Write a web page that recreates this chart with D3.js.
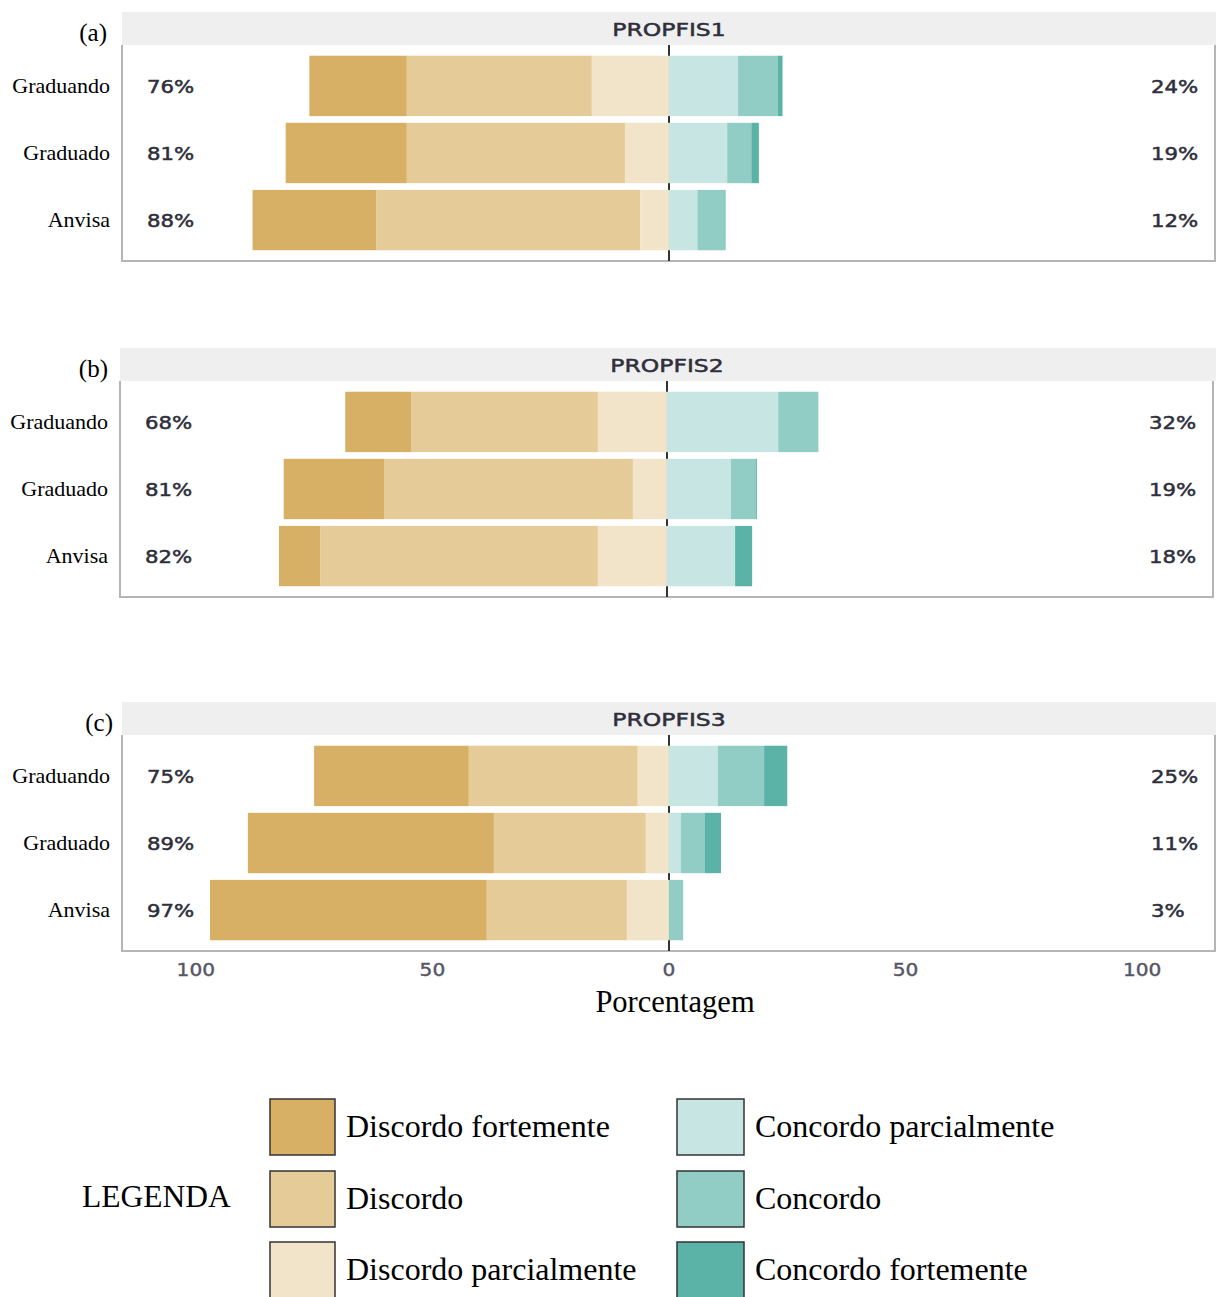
<!DOCTYPE html>
<html>
<head>
<meta charset="utf-8">
<script src="https://cdn.jsdelivr.net/npm/d3@7"></script>
<style>
  html, body { margin: 0; padding: 0; background: #fff; }
  svg { display: block; }
  .serif { font-family: "Liberation Serif", "Times New Roman", serif; fill: #000; }
  .sans { font-family: "DejaVu Sans", Verdana, sans-serif; }
</style>
</head>
<body>
<svg id="chart" width="1216" height="1297"></svg>
<script>
// Response levels, from strongest disagreement to strongest agreement
const levels = [
  "Discordo fortemente", "Discordo", "Discordo parcialmente",
  "Concordo parcialmente", "Concordo", "Concordo fortemente"
];
const levelColors = ["#d7b065", "#e5cb98", "#f2e4c9", "#c7e5e3", "#91cdc5", "#5bb3a8"];

// Respondent groups (rows of each panel)
const groups = ["Graduando", "Graduado", "Anvisa"];

// Items (one panel each) and their tags
const items = ["PROPFIS1", "PROPFIS2", "PROPFIS3"];
const itemTags = ["(a)", "(b)", "(c)"];

// Percentages per group, in the order of `levels`
const propfis1 = [
  [20.6, 39.1, 16.3, 14.6, 8.4, 1.0],   // Graduando
  [25.6, 46.1, 9.3, 12.3, 5.1, 1.6],    // Graduado
  [26.1, 55.8, 6.1, 6.0, 6.0, 0.0]      // Anvisa
];
const propfis2 = [
  [13.9, 39.5, 14.6, 23.5, 8.5, 0.0],
  [21.2, 52.6, 7.2, 13.5, 5.2, 0.3],
  [8.7, 58.7, 14.6, 14.4, 0.0, 3.6]
];
const propfis3 = [
  [32.7, 35.7, 6.6, 10.3, 9.8, 4.9],
  [52.0, 32.1, 4.9, 2.5, 5.0, 3.5],
  [58.5, 29.6, 8.9, 0.0, 3.0, 0.0]
];
const itemValues = [propfis1, propfis2, propfis3];

// Axis ticks (shown as absolute percentages)
const xTicks = [-100, -50, 0, 50, 100];

const svg = d3.select("#chart");

// Layout of the three facet panels
const panels = [
  { top: 12,  x0: 122, x1: 1215 },
  { top: 348, x0: 120, x1: 1213 },
  { top: 702, x0: 122, x1: 1215 }
];
const stripH = 33;
const plotH = 216;

// Draws stretched, slightly heavy sans text
function wideText(g, x, y, txt, opts) {
  const fill = opts.fill || "#2f2f3c";
  return g.append("text")
    .attr("class", "sans")
    .attr("transform", `translate(${x},${y}) scale(${opts.sx || 1.18},1)`)
    .attr("text-anchor", opts.anchor || "start")
    .attr("font-size", opts.size || 18)
    .attr("fill", fill)
    .attr("stroke", fill)
    .attr("stroke-width", opts.sw == null ? 0.5 : opts.sw)
    .text(txt);
}

let lastX = null, lastBottom = 0;

items.forEach((item, pi) => {
  const p = panels[pi];
  const g = svg.append("g");
  const plotTop = p.top + stripH;
  const plotBottom = plotTop + plotH;

  const x = d3.scaleLinear().domain([-115.6, 115.4]).range([p.x0, p.x1]);
  const y = d3.scaleBand().domain(groups).range([plotTop, plotBottom])
    .paddingInner(0.1).paddingOuter(0.16);

  // strip
  g.append("rect").attr("x", p.x0).attr("y", p.top)
    .attr("width", 1216 - p.x0).attr("height", stripH).attr("fill", "#efefef");
  wideText(g, x(0), p.top + stripH / 2 + 7, item,
    { anchor: "middle", size: 18.5, sx: 1.27, fill: "#2f2f3c" });

  // panel tag
  g.append("text").attr("class", "serif")
    .attr("x", p.x0 - 15 + pi * 3).attr("y", p.top + 29)
    .attr("text-anchor", "end").attr("font-size", 25)
    .text(itemTags[pi]);

  // panel border
  g.append("path")
    .attr("d", `M${p.x0},${plotTop}V${plotBottom}H${p.x1}V${plotTop}`)
    .attr("fill", "none").attr("stroke", "#b5b5b5").attr("stroke-width", 2);

  // zero reference line
  g.append("line").attr("x1", x(0)).attr("x2", x(0))
    .attr("y1", plotTop).attr("y2", plotBottom)
    .attr("stroke", "#333").attr("stroke-width", 2);

  const values = itemValues[pi];

  // stacked diverging bars
  groups.forEach((grp, gi) => {
    const row = values[gi];
    const neg = row.slice(0, 3);
    const pos = row.slice(3);
    const negTotal = d3.sum(neg);
    const posTotal = d3.sum(pos);

    // disagreement: stacked from -total towards 0
    let start = -negTotal;
    neg.forEach((v, li) => {
      if (v > 0) {
        g.append("rect")
          .attr("x", x(start)).attr("width", x(start + v) - x(start))
          .attr("y", y(grp)).attr("height", y.bandwidth())
          .attr("fill", levelColors[li]);
      }
      start += v;
    });
    // agreement: stacked rightward from 0
    start = 0;
    pos.forEach((v, li) => {
      if (v > 0) {
        g.append("rect")
          .attr("x", x(start)).attr("width", x(start + v) - x(start))
          .attr("y", y(grp)).attr("height", y.bandwidth())
          .attr("fill", levelColors[li + 3]);
      }
      start += v;
    });

    const cy = y(grp) + y.bandwidth() / 2;
    // group label
    g.append("text").attr("class", "serif")
      .attr("x", p.x0 - 12).attr("y", cy + 7)
      .attr("text-anchor", "end").attr("font-size", 22)
      .text(grp);
    // totals
    wideText(g, p.x0 + 25, cy + 7, Math.round(negTotal) + "%", { size: 18 });
    wideText(g, p.x0 + 1029, cy + 7, Math.round(posTotal) + "%", { size: 18 });
  });

  lastX = x;
  lastBottom = plotBottom;
});

// bottom axis (absolute percentages)
const axis = svg.append("g").attr("transform", `translate(0,${lastBottom})`);
xTicks.forEach(t => {
  wideText(axis, lastX(t), 25, String(Math.abs(t)),
    { anchor: "middle", size: 18, sx: 1.12, fill: "#555566", sw: 0.4 });
});

svg.append("text").attr("class", "serif")
  .attr("x", 675).attr("y", lastBottom + 61)
  .attr("text-anchor", "middle").attr("font-size", 30.5)
  .text("Porcentagem");

// legend
const legend = svg.append("g");
legend.append("text").attr("class", "serif")
  .attr("x", 82).attr("y", 1207).attr("font-size", 31.5).text("LEGENDA");

const legendCols = [{ x: 270, w: 65 }, { x: 677, w: 67 }];
const legendRows = [1099, 1171, 1242];
levels.forEach((lv, i) => {
  const col = legendCols[Math.floor(i / 3)];
  const ry = legendRows[i % 3];
  legend.append("rect")
    .attr("x", col.x).attr("y", ry).attr("width", col.w).attr("height", 56)
    .attr("fill", levelColors[i]).attr("stroke", "#333").attr("stroke-width", 1.5);
  legend.append("text").attr("class", "serif")
    .attr("x", col.x + col.w + 11).attr("y", ry + 38)
    .attr("font-size", 32).text(lv);
});
</script>
</body>
</html>
